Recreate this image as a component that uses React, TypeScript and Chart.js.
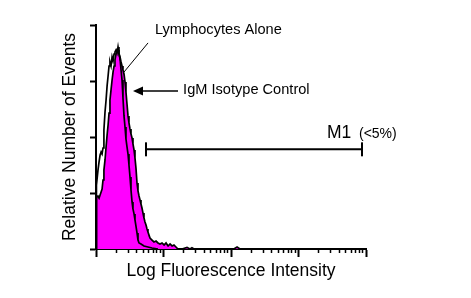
import React, { useEffect, useRef } from "react";
import { Chart, registerables } from "chart.js";

Chart.register(...registerables);

// ---- axis ticks ----
const yTickValues = [0, 50, 100, 150, 200];
const xDecades = [1, 10, 100, 1000, 10000];
const xMinorSteps = [2, 3, 4, 5, 6, 7, 8, 9];

// ---- Lymphocytes Alone (black outline histogram) ----
const lymphX = [1.0, 1.0, 1.03, 1.07, 1.11, 1.15, 1.19, 1.23, 1.27, 1.31, 1.36, 1.41, 1.46, 1.51, 1.56, 1.61, 1.67, 1.73, 1.79, 1.85, 1.91, 1.98, 2.05, 2.12, 2.19, 2.27, 2.35, 2.43, 2.51, 2.6, 2.69, 2.78, 2.88, 2.98, 3.08, 3.19, 3.3, 3.42, 3.53, 3.66, 3.78, 3.91, 4.05, 4.19, 4.34, 4.64, 5.14, 5.89, 6.76, 8.29];
const lymphY = [0, 57, 57, 70.5, 77.7, 83.9, 86.6, 84.8, 90.2, 106.3, 122.3, 133, 145.6, 154.5, 163.4, 167, 163.4, 171.5, 167.9, 174.1, 175.9, 177.7, 175, 180.4, 175, 169.7, 159.8, 150.9, 134.8, 118.8, 108.9, 98.2, 91.1, 84.8, 75, 64.3, 52.7, 42, 35.7, 31.3, 25.9, 20.5, 14.3, 8, 5.4, 4.5, 2.7, 1.8, 0.9, 0];

// ---- IgM Isotype Control (filled magenta histogram) ----
const igmX = [1.0, 1.0, 1.03, 1.07, 1.11, 1.15, 1.19, 1.23, 1.27, 1.31, 1.36, 1.41, 1.46, 1.51, 1.56, 1.61, 1.67, 1.73, 1.79, 1.85, 1.91, 1.98, 2.05, 2.12, 2.19, 2.27, 2.35, 2.43, 2.51, 2.6, 2.69, 2.78, 2.88, 2.98, 3.08, 3.19, 3.3, 3.42, 3.53, 3.66, 3.78, 3.91, 4.05, 4.19, 4.34, 4.49, 4.64, 4.8, 4.97, 5.14, 5.32, 5.51, 5.7, 5.89, 6.1, 6.31, 6.76, 7.23, 7.75, 8.29, 8.87, 9.5, 10.2, 10.9, 11.7, 12.5, 13.4, 14.3, 15.3, 16.4, 18.8, 22.3, 24.7, 26.4, 28.3, 110, 123, 136, 10000];
const igmY = [0, 43.8, 46.4, 47.3, 45.5, 48.2, 50.9, 53.6, 61.6, 70.5, 79.5, 91.1, 101.8, 110.7, 121.4, 133, 142, 150.9, 158.1, 163.4, 168.8, 174.1, 175.9, 177.7, 174.1, 171.5, 167, 163.4, 159.8, 156.3, 149.2, 140.2, 129.5, 118.8, 112.5, 107.2, 102.7, 99.1, 93.8, 88.4, 81.3, 72.3, 58.9, 51.8, 47.3, 43.8, 40.2, 36.6, 32.1, 27.7, 24.1, 21.4, 17.9, 15.2, 12.5, 9.8, 8, 6.3, 7.1, 5.4, 4.5, 5.4, 3.6, 5.4, 2.7, 4.5, 2.7, 3.6, 1.8, 0, 0, 1.5, 0, 1.2, 0, 0, 1.8, 0, 0];

// ---- M1 marker ----
const markerX = [5.5, 8730];
const markerY = [89, 89];

// ---- texts ----
const yTitle = "Relative Number of Events";
const xTitle = "Log Fluorescence Intensity";
const lymphLabel = "Lymphocytes Alone";
const igmLabel = "IgM Isotype Control";
const markerLabel = "M1";
const markerNote = "(<5%)";

// annotation anchors in data coordinates [x, y]
const lymphLabelAt = [7.48, 192];
const lymphPointerFrom = [5.9, 184];
const lymphPointerTo = [2.6, 158];
const igmLabelAt = [19.5, 138.4];
const igmArrowFrom = [16.4, 141];
const igmArrowTo = [3.53, 141];
const markerLabelAt = [2643, 99];
const markerNoteAt = [7870, 99.5];

const FONT = '"Liberation Sans", Arial, Helvetica, sans-serif';

const xTickValues: number[] = [];
xDecades.forEach((d, i) => {
  xTickValues.push(d);
  if (i < xDecades.length - 1) xMinorSteps.forEach((k) => xTickValues.push(k * d));
});

const annotationPlugin = {
  id: "annotations",
  afterDatasetsDraw(chart: any) {
    const { ctx } = chart;
    const xs = chart.scales.x;
    const ys = chart.scales.y;
    const px = (p: number[]) => [xs.getPixelForValue(p[0]), ys.getPixelForValue(p[1])];
    ctx.save();
    ctx.fillStyle = "#000";
    ctx.strokeStyle = "#000";
    ctx.textBaseline = "alphabetic";
    ctx.textAlign = "left";

    ctx.font = `14.6px ${FONT}`;
    let p = px(lymphLabelAt);
    ctx.fillText(lymphLabel, p[0], p[1]);
    p = px(igmLabelAt);
    ctx.fillText(igmLabel, p[0], p[1]);

    // pointer line
    const a = px(lymphPointerFrom);
    const b = px(lymphPointerTo);
    ctx.lineWidth = 1;
    ctx.beginPath();
    ctx.moveTo(a[0], a[1]);
    ctx.lineTo(b[0], b[1]);
    ctx.stroke();

    // arrow
    const f = px(igmArrowFrom);
    const t = px(igmArrowTo);
    ctx.lineWidth = 1.5;
    ctx.beginPath();
    ctx.moveTo(f[0], f[1]);
    ctx.lineTo(t[0] + 6, t[1]);
    ctx.stroke();
    ctx.beginPath();
    ctx.moveTo(t[0], t[1]);
    ctx.lineTo(t[0] + 10, t[1] - 4.5);
    ctx.lineTo(t[0] + 10, t[1] + 4.5);
    ctx.closePath();
    ctx.fill();

    ctx.font = `17.5px ${FONT}`;
    p = px(markerLabelAt);
    ctx.fillText(markerLabel, p[0], p[1]);
    ctx.font = `14px ${FONT}`;
    p = px(markerNoteAt);
    ctx.fillText(markerNote, p[0], p[1]);
    ctx.restore();
  },
};

export default function App() {
  const canvasRef = useRef<HTMLCanvasElement | null>(null);

  useEffect(() => {
    if (!canvasRef.current) return;
    const toPts = (xs: number[], ys: number[]) => xs.map((x, i) => ({ x, y: ys[i] }));
    const chart = new Chart(canvasRef.current, {
      type: "line",
      data: {
        datasets: [
          {
            label: "M1",
            data: toPts(markerX, markerY),
            borderColor: "#000",
            borderWidth: 2,
            pointStyle: "line",
            pointRadius: 7,
            pointRotation: 90,
            pointBorderWidth: 2,
            pointBorderColor: "#000",
            fill: false,
            order: 0,
          } as any,
          {
            label: lymphLabel,
            data: toPts(lymphX, lymphY),
            borderColor: "#000",
            borderWidth: 1.7,
            pointRadius: 0,
            fill: false,
            tension: 0,
            order: 1,
          },
          {
            label: igmLabel,
            data: toPts(igmX, igmY),
            borderColor: "#000",
            borderWidth: 1.7,
            backgroundColor: "#FF00FF",
            pointRadius: 0,
            fill: "origin",
            tension: 0,
            order: 2,
          },
        ],
      },
      options: {
        responsive: false,
        animation: false,
        events: [],
        layout: { padding: { left: 0, top: 25, right: 105, bottom: 0 } },
        plugins: { legend: { display: false }, tooltip: { enabled: false } },
        scales: {
          x: {
            type: "logarithmic",
            min: 1,
            max: 10000,
            afterFit: (s: any) => {
              s.height = 49;
            },
            afterBuildTicks: (s: any) => {
              s.ticks = xTickValues.map((v) => ({ value: v, major: xDecades.includes(v) }));
            },
            ticks: { display: false, autoSkip: false },
            grid: {
              drawOnChartArea: false,
              drawTicks: true,
              tickLength: 8,
              tickColor: "#000",
              tickWidth: (c: any) => (c.tick && xDecades.includes(c.tick.value) ? 2 : 1.5),
              tickBorderDash: (c: any) => (c.tick && xDecades.includes(c.tick.value) ? [] : [3, 30]),
            } as any,
            border: { display: true, color: "#000", width: 2 },
            title: {
              display: true,
              text: xTitle,
              color: "#000",
              font: { family: FONT, size: 17.5 },
              padding: { top: 0, bottom: 16 },
            },
          },
          y: {
            type: "linear",
            min: 0,
            max: 200,
            afterFit: (s: any) => {
              s.width = 96;
            },
            afterBuildTicks: (s: any) => {
              s.ticks = yTickValues.map((v) => ({ value: v }));
            },
            ticks: { display: false },
            grid: {
              drawOnChartArea: false,
              drawTicks: true,
              tickLength: 6,
              tickColor: "#000",
              tickWidth: 2,
            },
            border: { display: true, color: "#000", width: 2 },
            title: {
              display: true,
              text: yTitle,
              color: "#000",
              font: { family: FONT, size: 17.5 },
              padding: { top: 60, bottom: 0 },
            },
          },
        },
      } as any,
      plugins: [annotationPlugin],
    });
    return () => chart.destroy();
  }, []);

  return (
    <div style={{ position: "fixed", left: 0, top: 0, width: 471, height: 298, background: "#fff" }}>
      <canvas ref={canvasRef} width={471} height={298} style={{ display: "block" }} />
    </div>
  );
}
